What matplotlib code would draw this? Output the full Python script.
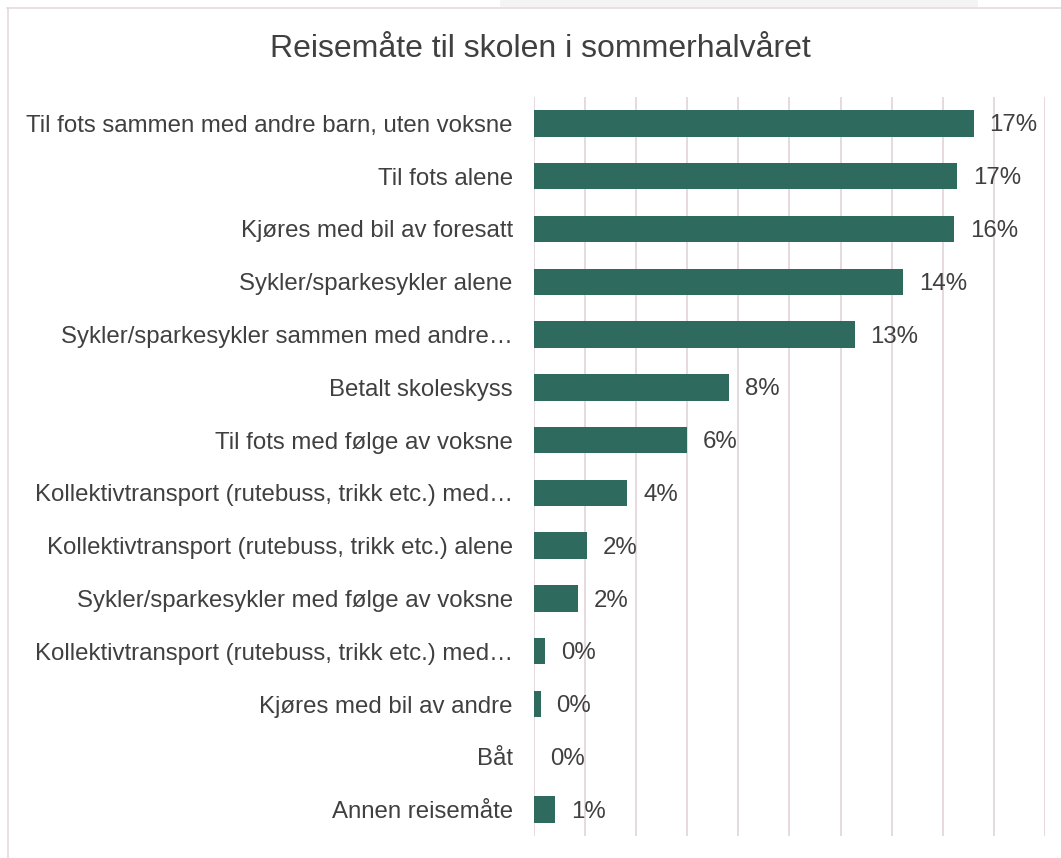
import matplotlib.pyplot as plt
import numpy as np

BAR = "#2e6b5e"
TEXT = "#404040"
GRID = "#e6d9de"

categories = [
    "Til fots sammen med andre barn, uten voksne",
    "Til fots alene",
    "Kjøres med bil av foresatt",
    "Sykler/sparkesykler alene",
    "Sykler/sparkesykler sammen med andre…",
    "Betalt skoleskyss",
    "Til fots med følge av voksne",
    "Kollektivtransport (rutebuss, trikk etc.) med…",
    "Kollektivtransport (rutebuss, trikk etc.) alene",
    "Sykler/sparkesykler med følge av voksne",
    "Kollektivtransport (rutebuss, trikk etc.) med…",
    "Kjøres med bil av andre",
    "Båt",
    "Annen reisemåte",
]
values = [17.2, 16.55, 16.45, 14.45, 12.55, 7.65, 6.0, 3.65, 2.07, 1.73, 0.43, 0.27, 0.0, 0.84]

plt.rcParams["font.family"] = ["Liberation Sans", "DejaVu Sans"]

fig = plt.figure(figsize=(10.61, 8.58), dpi=100)
fig.patch.set_facecolor("white")

# outer frame (partial, as in the screenshot)
fig.add_artist(plt.Rectangle((500 / 1061, 1 - 7 / 858), 478 / 1061, 7 / 858,
                             transform=fig.transFigure, color="#f4f4f4", lw=0))
fig.add_artist(plt.Line2D([7 / 1061, 1], [1 - 7.5 / 858, 1 - 7.5 / 858],
                          transform=fig.transFigure, color=GRID, lw=1.2))
fig.add_artist(plt.Line2D([7.5 / 1061, 7.5 / 1061], [0, 1 - 7.5 / 858],
                          transform=fig.transFigure, color=GRID, lw=1.2))

ax = fig.add_axes([533.7 / 1061, 22 / 858, 511.4 / 1061, 739 / 858])

y = np.arange(len(categories))
ax.barh(y, values, height=0.5, color=BAR, zorder=3)

for yi, v in zip(y, values):
    ax.annotate(f"{v:.0f}%", (v, yi), xytext=(11.5, -1.5), textcoords="offset points",
                ha="left", va="center", fontsize=17.3, color=TEXT)

ax.set_xlim(0, 20)
ax.set_ylim(len(categories) - 0.5, -0.5)
ax.set_xticks(np.arange(0, 21, 2))
ax.xaxis.grid(True, color=GRID, lw=1.4, zorder=0)
ax.tick_params(axis="x", length=0, labelbottom=False)
ax.set_yticks(y)
ax.set_yticklabels(categories, fontsize=17.3, color=TEXT)
ax.tick_params(axis="y", length=0, pad=15)
for s in ax.spines.values():
    s.set_visible(False)

fig.text(540 / 1061, 1 - 49 / 858, "Reisemåte til skolen i sommerhalvåret",
         ha="center", va="center", fontsize=23, color=TEXT)

plt.savefig("out.png", dpi=100)
